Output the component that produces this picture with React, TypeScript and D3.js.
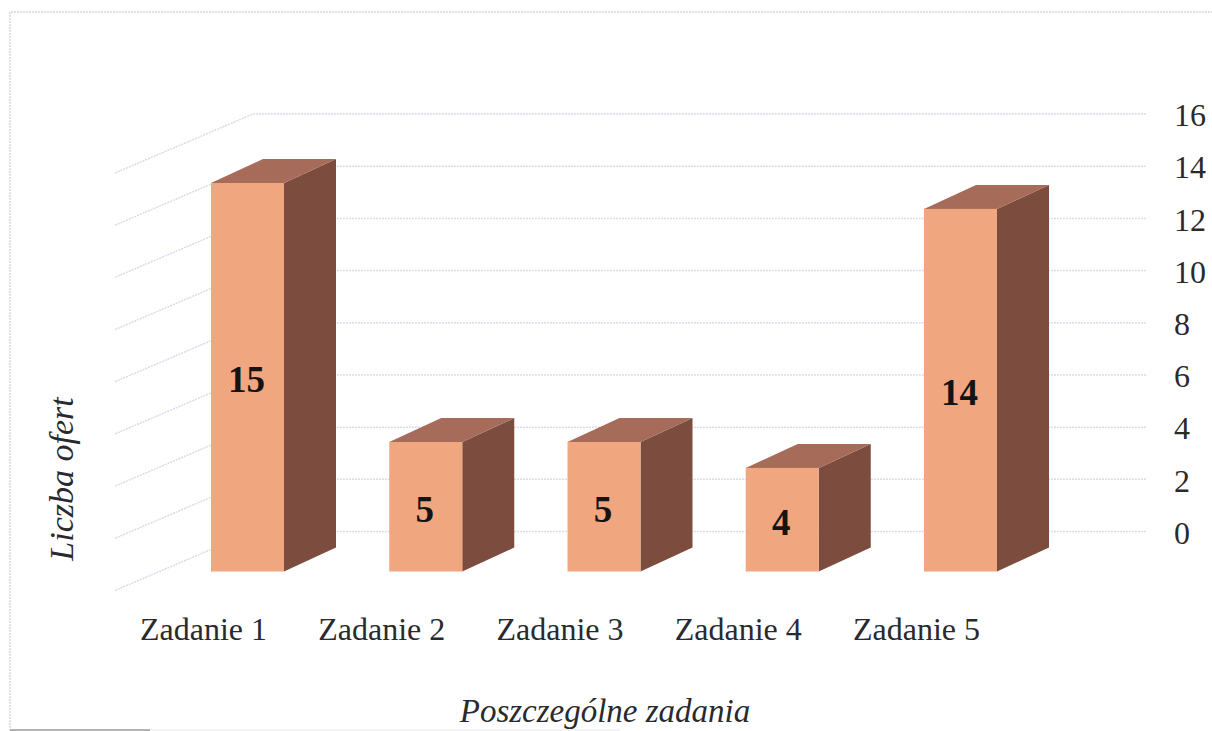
import React from "react";
import * as d3 from "d3";

const categories = ["Zadanie 1", "Zadanie 2", "Zadanie 3", "Zadanie 4", "Zadanie 5"];
const offers = [15, 5, 5, 4, 14];
const yTicks = [0, 2, 4, 6, 8, 10, 12, 14, 16];
const xTitle = "Poszczególne zadania";
const yTitle = "Liczba ofert";

const W = 1212;
const H = 731;
const SERIF = "'Liberation Serif', 'Times New Roman', serif";

// back wall scale
const yWall = d3.scaleLinear().domain([0, 16]).range([531.5, 114]);
// front plane of the bars
const yBar = d3.scaleLinear().domain([0, 15]).range([571.5, 183]);
const xBar = d3.scalePoint<string>().domain(categories).range([211, 924]);
const barWidth = 73;
const labelShift = -71;
const wallDepth = { dx: 138, dy: 59 };
const barDepth = { dx: 52, dy: 24 };
const wallRight = 1146;
const wallLeft = 253;

const GRID = "#dbd9ee";
const TEXT = "#2a2a2e";

export default function App() {
  const wallLine = d3.line<[number, number]>();
  return (
    <svg
      width={W}
      height={H}
      viewBox={`0 0 ${W} ${H}`}
      style={{ position: "absolute", left: 0, top: 0, background: "#fff", display: "block" }}
    >
      <path d={`M10 731V12H${W}`} fill="none" stroke="#d8d8d8" strokeWidth={1.5} strokeDasharray="2 1" />
      <path d={`M10 730H150`} fill="none" stroke="#9a9a9a" strokeWidth={1.5} />
      <path d={`M150 730H620`} fill="none" stroke="#e8e8e8" strokeWidth={1} />

      {yTicks.map((t) => (
        <g key={t}>
          <path
            d={
              wallLine([
                [wallLeft - wallDepth.dx, yWall(t) + wallDepth.dy],
                [wallLeft, yWall(t)],
                [wallRight, yWall(t)],
              ]) as string
            }
            fill="none"
            stroke={GRID}
            strokeWidth={1.5}
            strokeDasharray="2 1"
          />
          <text
            x={1174}
            y={yWall(t) + 1}
            dy="0.35em"
            fontFamily={SERIF}
            fontSize={32}
            fill={TEXT}
          >
            {t}
          </text>
        </g>
      ))}

      {categories.map((c, i) => {
        const x0 = xBar(c) as number;
        const x1 = x0 + barWidth;
        const top = yBar(offers[i]);
        const bottom = yBar(0);
        const { dx, dy } = barDepth;
        return (
          <g key={c}>
            <polygon
              points={`${x1},${top} ${x1 + dx},${top - dy} ${x1 + dx},${bottom - dy} ${x1},${bottom}`}
              fill="#7c4c3e"
            />
            <polygon
              points={`${x0},${top} ${x0 + dx},${top - dy} ${x1 + dx},${top - dy} ${x1},${top}`}
              fill="#a66b59"
            />
            <rect x={x0} y={top} width={barWidth} height={bottom - top} fill="#f0a67f" />
            <text
              x={x0 + barWidth / 2 - 1}
              y={(top + bottom) / 2 + 2}
              dy="0.35em"
              textAnchor="middle"
              fontFamily={SERIF}
              fontWeight="bold"
              fontSize={37}
              fill="#141414"
            >
              {offers[i]}
            </text>
            <text
              x={x0 + labelShift}
              y={640}
              fontFamily={SERIF}
              fontSize={32}
              fill={TEXT}
            >
              {c}
            </text>
          </g>
        );
      })}

      <text
        x={605}
        y={722}
        textAnchor="middle"
        fontFamily={SERIF}
        fontStyle="italic"
        fontSize={33}
        fill={TEXT}
      >
        {xTitle}
      </text>
      <text
        transform="translate(73,479) rotate(-90)"
        textAnchor="middle"
        fontFamily={SERIF}
        fontStyle="italic"
        fontSize={34}
        fill={TEXT}
      >
        {yTitle}
      </text>
    </svg>
  );
}
